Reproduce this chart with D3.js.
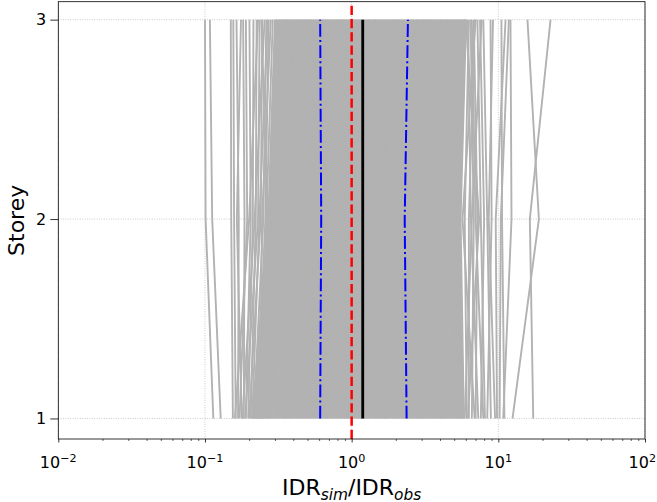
<!DOCTYPE html>
<html><head><meta charset="utf-8">
<script src="https://cdn.jsdelivr.net/npm/d3@7"></script>
<style>body{margin:0;background:#fff} text{font-family:"DejaVu Sans",sans-serif;fill:#000}</style>
</head><body><svg id="c" width="657" height="502"></svg>
<script>
// ---- data ----
const storeys = [1, 2, 3];
// IDR_sim / IDR_obs for each simulation, per storey (index i = same simulation)
const idrStorey1 = [
0.210,0.214,0.218,0.221,0.224,0.228,0.233,0.236,0.239,0.244,0.247,0.250,0.254,0.259,0.262,0.265,0.270,0.273,0.276,0.281,
0.284,0.288,0.294,0.299,0.303,0.309,0.314,0.320,0.324,0.330,0.336,0.340,0.344,0.350,0.356,0.360,0.364,0.370,0.376,0.380,
0.386,0.392,0.398,0.406,0.413,0.419,0.425,0.433,0.441,0.447,0.453,0.460,0.468,0.474,0.480,0.488,0.496,0.501,0.507,0.515,
0.523,0.531,0.539,0.550,0.558,0.568,0.578,0.587,0.595,0.605,0.615,0.623,0.633,0.643,0.651,0.660,0.671,0.679,0.687,0.698,
0.708,0.719,0.733,0.745,0.756,0.771,0.782,0.794,0.808,0.820,0.831,0.846,0.857,0.869,0.883,0.895,0.906,0.921,0.932,0.944,
0.958,0.973,0.992,1.008,1.024,1.043,1.059,1.075,1.094,1.110,1.126,1.145,1.160,1.179,1.195,1.211,1.230,1.245,1.263,1.278,
1.297,1.318,1.343,1.364,1.389,1.410,1.435,1.456,1.481,1.502,1.527,1.547,1.572,1.593,1.618,1.639,1.664,1.685,1.710,1.731,
1.756,1.785,1.818,1.847,1.880,1.910,1.943,1.972,2.005,2.034,2.067,2.096,2.129,2.158,2.191,2.221,2.254,2.283,2.316,2.345,
2.378,2.418,2.462,2.502,2.546,2.587,2.631,2.671,2.715,2.755,2.799,2.839,2.883,2.923,2.967,3.008,3.052,3.092,3.136,3.176,
3.220,3.275,3.334,3.389,3.448,3.503,3.562,3.617,3.676,3.731,3.791,3.846,3.905,3.960,4.019,4.074,4.133,4.188,4.247,4.302,
4.36,4.43,4.52,4.59,4.68,4.75,4.83,4.90,4.99,5.05,5.14,5.21,5.29,5.36,5.45,5.52,5.60,5.67,5.76,5.82,
0.114,0.128,0.155,0.162,0.168,0.178,0.184,0.172,0.190,0.197,0.205,0.188,0.200,0.215,0.226,0.236,0.245,0.180,0.210,0.160,0.230,
12.5,17.3,10.8,10.2,9.8,11.0,8.4,8.9,7.6,8.1,7.0,6.6,6.3,7.3,6.1,6.9,5.9,7.9,9.5,6.2
];
const idrStorey2 = [
0.270,0.275,0.279,0.282,0.287,0.292,0.296,0.299,0.304,0.310,0.313,0.316,0.321,0.327,0.330,0.333,0.339,0.344,0.347,0.350,
0.356,0.362,0.367,0.372,0.378,0.385,0.390,0.394,0.401,0.407,0.412,0.417,0.423,0.430,0.435,0.439,0.446,0.453,0.457,0.462,
0.469,0.477,0.483,0.490,0.498,0.507,0.513,0.520,0.528,0.537,0.543,0.549,0.558,0.566,0.573,0.579,0.588,0.596,0.602,0.609,
0.617,0.628,0.637,0.646,0.657,0.667,0.676,0.685,0.696,0.706,0.715,0.724,0.735,0.746,0.754,0.763,0.774,0.785,0.794,0.802,
0.813,0.827,0.839,0.851,0.865,0.879,0.891,0.903,0.917,0.930,0.942,0.954,0.968,0.982,0.994,1.006,1.020,1.034,1.046,1.058,
1.071,1.089,1.105,1.121,1.139,1.157,1.173,1.189,1.207,1.225,1.241,1.257,1.275,1.293,1.309,1.325,1.343,1.361,1.377,1.393,
1.412,1.435,1.456,1.478,1.501,1.525,1.546,1.567,1.591,1.614,1.636,1.657,1.680,1.704,1.725,1.747,1.770,1.793,1.815,1.836,
1.860,1.890,1.919,1.947,1.978,2.008,2.037,2.065,2.096,2.126,2.155,2.183,2.214,2.244,2.273,2.301,2.332,2.362,2.391,2.419,
2.450,2.490,2.528,2.565,2.605,2.645,2.683,2.721,2.761,2.801,2.839,2.876,2.916,2.956,2.994,3.032,3.072,3.112,3.150,3.187,
3.227,3.279,3.330,3.380,3.432,3.484,3.534,3.585,3.637,3.689,3.739,3.789,3.842,3.894,3.944,3.994,4.046,4.099,4.149,4.199,
4.25,4.33,4.39,4.45,4.53,4.59,4.66,4.72,4.80,4.86,4.93,4.99,5.07,5.13,5.20,5.26,5.34,5.40,5.47,5.53,
0.101,0.112,0.151,0.158,0.170,0.165,0.186,0.194,0.205,0.212,0.222,0.230,0.240,0.250,0.258,0.245,0.262,0.218,0.235,0.200,0.266,
18.9,16.4,12.3,10.4,9.6,10.6,9.0,8.4,8.0,7.6,7.2,6.8,6.3,6.5,5.9,5.7,6.6,7.0,8.6,7.4
];
const idrStorey3 = [
0.300,0.306,0.309,0.313,0.319,0.325,0.328,0.332,0.338,0.344,0.347,0.351,0.357,0.362,0.366,0.370,0.376,0.381,0.385,0.389,
0.395,0.402,0.407,0.412,0.419,0.427,0.432,0.437,0.444,0.451,0.457,0.462,0.469,0.476,0.481,0.487,0.494,0.501,0.506,0.511,
0.519,0.528,0.535,0.542,0.551,0.561,0.568,0.575,0.584,0.593,0.600,0.608,0.617,0.626,0.633,0.640,0.649,0.659,0.666,0.673,
0.682,0.694,0.704,0.713,0.725,0.737,0.747,0.756,0.768,0.780,0.790,0.799,0.811,0.823,0.833,0.842,0.854,0.866,0.876,0.885,
0.897,0.912,0.925,0.938,0.954,0.969,0.982,0.995,1.010,1.025,1.038,1.052,1.067,1.082,1.095,1.108,1.123,1.138,1.151,1.165,
1.180,1.199,1.217,1.235,1.254,1.274,1.291,1.309,1.328,1.348,1.366,1.383,1.403,1.422,1.440,1.457,1.477,1.497,1.514,1.532,
1.551,1.577,1.600,1.624,1.649,1.675,1.698,1.721,1.747,1.772,1.796,1.819,1.844,1.870,1.893,1.917,1.942,1.968,1.991,2.015,
2.040,2.073,2.104,2.135,2.169,2.202,2.233,2.264,2.297,2.330,2.361,2.392,2.426,2.459,2.490,2.521,2.554,2.587,2.618,2.649,
2.683,2.726,2.767,2.809,2.852,2.895,2.936,2.978,3.021,3.064,3.105,3.147,3.190,3.233,3.274,3.316,3.359,3.402,3.443,3.485,
3.528,3.584,3.639,3.693,3.750,3.807,3.861,3.916,3.972,4.029,4.083,4.138,4.195,4.251,4.306,4.360,4.417,4.473,4.528,4.582,
4.64,4.72,4.79,4.86,4.94,5.01,5.08,5.15,5.23,5.30,5.37,5.44,5.53,5.60,5.66,5.74,5.82,5.88,5.96,6.03,
0.100,0.108,0.150,0.156,0.164,0.176,0.182,0.190,0.201,0.214,0.225,0.236,0.246,0.262,0.272,0.281,0.290,0.255,0.268,0.230,0.243,
15.8,22.7,12.1,11.8,11.2,10.5,8.85,7.9,7.5,7.2,6.8,6.47,6.9,6.2,6.3,7.0,7.7,6.6,9.2,6.0
];
const medianIDR = [1.19, 1.19, 1.19];
const p16IDR = [0.61, 0.62, 0.61];
const p84IDR = [2.37, 2.30, 2.42];
const referenceIDR = 1;
const xTickExponents = [-2, -1, 0, 1, 2];
const minorMultipliers = [2, 3, 4, 5, 6, 7, 8, 9];
const yTicks = [1, 2, 3];

// ---- chart ----
const W = 657;
const svg = d3.select("#c");
const L = 58.3, R = 645, T = 1.7, B = 439;
const x = d3.scaleLog().domain([0.01, 100]).range([L, R]);
const y = d3.scaleLinear().domain([0.897, 3.09]).range([B, T]);

svg.append("defs").append("clipPath").attr("id", "clip")
  .append("rect").attr("x", L).attr("y", T).attr("width", R - L).attr("height", B - T);

const majors = xTickExponents.map(e => Math.pow(10, e));
const minors = [];
xTickExponents.slice(0, -1).forEach(e => minorMultipliers.forEach(m => minors.push(m * Math.pow(10, e))));

// grid
const grid = svg.append("g").attr("stroke", "#b0b0b0").attr("stroke-width", 0.8)
  .attr("stroke-dasharray", "0.8,1.6").attr("fill", "none");
grid.selectAll("line.v").data(majors).join("line").attr("class", "v")
  .attr("x1", d => x(d)).attr("x2", d => x(d)).attr("y1", T).attr("y2", B);
grid.selectAll("line.h").data(yTicks).join("line").attr("class", "h")
  .attr("x1", L).attr("x2", R).attr("y1", d => y(d)).attr("y2", d => y(d));

const plot = svg.append("g").attr("clip-path", "url(#clip)");
const line = d3.line();
const n = Math.min(idrStorey1.length, idrStorey2.length, idrStorey3.length);
const perStorey = [idrStorey1, idrStorey2, idrStorey3];
const sims = d3.range(n).map(i => storeys.map((s, k) => [x(perStorey[k][i]), y(s)]));

plot.append("g").attr("fill", "none").attr("stroke", "#b2b2b2").attr("stroke-width", 1.9)
  .attr("stroke-linejoin", "round")
  .selectAll("path").data(sims).join("path").attr("d", d => line(d));

plot.append("path").attr("fill", "none").attr("stroke", "#000").attr("stroke-width", 2.8)
  .attr("d", line(storeys.map((s, k) => [x(medianIDR[k]), y(s)])));
[p16IDR, p84IDR].forEach(p => {
  plot.append("path").attr("fill", "none").attr("stroke", "#0000ff").attr("stroke-width", 2)
    .attr("stroke-dasharray", "12.8,3.2,2,3.2")
    .attr("d", line(storeys.map((s, k) => [x(p[k]), y(s)])));
});
plot.append("path").attr("fill", "none").attr("stroke", "#ff0000").attr("stroke-width", 2.5)
  .attr("stroke-dasharray", "9.25,4")
  .attr("d", line([[x(referenceIDR), B], [x(referenceIDR), T]]));

// spines
svg.append("rect").attr("x", L).attr("y", T).attr("width", R - L).attr("height", B - T)
  .attr("fill", "none").attr("stroke", "#000").attr("stroke-width", 0.8);

// x axis ticks
const xMajor = svg.append("g").attr("transform", `translate(0,${B})`)
  .call(d3.axisBottom(x).tickValues(majors).tickSize(3.5).tickSizeOuter(0).tickFormat(""));
const xMinor = svg.append("g").attr("transform", `translate(0,${B})`)
  .call(d3.axisBottom(x).tickValues(minors).tickSize(2).tickSizeOuter(0).tickFormat(""));
[xMajor, xMinor].forEach(g => { g.select(".domain").remove(); g.selectAll("line").attr("stroke", "#000").attr("stroke-width", 0.8); });
xMinor.selectAll("line").attr("stroke-width", 0.6);

const xl = svg.append("g");
xTickExponents.forEach(e => {
  const t = xl.append("text").attr("x", x(Math.pow(10, e))).attr("y", 468)
    .attr("text-anchor", "middle").attr("font-size", 16);
  t.append("tspan").text("10");
  t.append("tspan").attr("dy", -6).attr("font-size", 11.2).text(e < 0 ? "\u2212" + (-e) : String(e));
  // keep the last label inside the picture
  const bb = t.node().getBBox();
  if (bb.x + bb.width > W - 1) t.attr("x", +t.attr("x") - (bb.x + bb.width - (W - 1)));
});

// y axis ticks
const yAx = svg.append("g").attr("transform", `translate(${L},0)`)
  .call(d3.axisLeft(y).tickValues(yTicks).tickSize(8).tickSizeOuter(0).tickPadding(4).tickFormat(d3.format("d")));
yAx.select(".domain").remove();
yAx.selectAll("line").attr("stroke", "#000").attr("stroke-width", 0.8);
yAx.selectAll("text").attr("font-size", 16).attr("font-family", "DejaVu Sans");

// labels
svg.append("text").attr("transform", `translate(24,${(T + B) / 2}) rotate(-90)`)
  .attr("text-anchor", "middle").attr("font-size", 22).text("Storey");
const xt = svg.append("text").attr("x", (L + R) / 2).attr("y", 495).attr("text-anchor", "middle").attr("font-size", 22);
xt.append("tspan").text("IDR");
xt.append("tspan").attr("font-size", 15.4).attr("font-style", "italic").attr("dy", 4.5).text("sim");
xt.append("tspan").attr("dy", -4.5).text("/IDR");
xt.append("tspan").attr("font-size", 15.4).attr("font-style", "italic").attr("dy", 4.5).text("obs");
</script></body></html>
